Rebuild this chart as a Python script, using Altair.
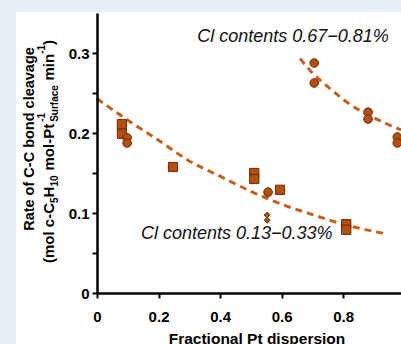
import altair as alt
import pandas as pd

# ---------------- data ----------------
low_sq_x = [0.081, 0.081, 0.247, 0.511, 0.511, 0.595, 0.810, 0.810]
low_sq_y = [0.211, 0.199, 0.1575, 0.150, 0.1425, 0.129, 0.086, 0.079]
low_ci_x = [0.098, 0.098, 0.556]
low_ci_y = [0.194, 0.1875, 0.126]
low_di_x = [0.553, 0.553]
low_di_y = [0.0975, 0.091]
high_ci_x = [0.706, 0.706, 0.881, 0.881, 0.976, 0.976]
high_ci_y = [0.2875, 0.2625, 0.226, 0.2175, 0.195, 0.1875]

low_fit_x = [0.0, 0.1, 0.2, 0.3, 0.4, 0.5, 0.6, 0.7, 0.8, 0.9, 0.94]
low_fit_y = [0.243, 0.216, 0.191, 0.165, 0.146, 0.127, 0.111, 0.098, 0.086, 0.077, 0.074]
high_fit_x = [0.66, 0.70, 0.75, 0.80, 0.85, 0.90, 0.95, 0.988]
high_fit_y = [0.293, 0.275, 0.258, 0.242, 0.229, 0.219, 0.210, 0.204]

label_text = ["Cl contents 0.67\u22120.81%", "Cl contents 0.13\u22120.33%"]
label_x = [0.637, 0.454]
label_y = [0.314, 0.0675]

x_ticks = [0, 0.2, 0.4, 0.6, 0.8]
y_ticks = [0, 0.05, 0.1, 0.15, 0.2, 0.25, 0.3]

# ---------------- layout ----------------
W, H = 304, 280
OX, OY = 97, 13  # plot origin in page pixels
FONT = "Liberation Sans"
MARK = "#b4500e"
EDGE = "#6a2a06"
LINE = "#c4601c"
BG = "#e8eef7"

xs = alt.Scale(domain=[0, 0.988], nice=False, zero=False)
ys = alt.Scale(domain=[0, 0.35], nice=False)

xaxis = alt.Axis(values=x_ticks, labelExpr="datum.value == 0 ? '0' : format(datum.value, '.1f')",
                 title="Fractional Pt dispersion", titleFont=FONT, titleFontSize=15.5,
                 titleFontWeight="bold", titleColor="black", titleX=159.5, titleY=50,
                 titleBaseline="alphabetic", titleAlign="center",
                 labelFont=FONT, labelFontSize=15, labelFontWeight="bold", labelColor="black",
                 labelPadding=11, tickSize=5, tickWidth=2, tickColor="black",
                 domainColor="black", domainWidth=2.5, grid=False, zindex=1, labelFlush=False)
yaxis = alt.Axis(values=y_ticks,
                 labelExpr="datum.value == 0 ? '0' : (round(datum.value*100) % 10 == 0 ? format(datum.value, '.1f') : '')",
                 title=None, labelFont=FONT, labelFontSize=15, labelFontWeight="bold",
                 labelColor="black", labelPadding=3, tickSize=5, tickWidth=2, tickColor="black",
                 domainColor="black", domainWidth=2.5, grid=False, zindex=1, labelFlush=False)

one = pd.DataFrame({"a": [0]})

panel = alt.Chart(one).mark_rect(color="white").encode(
    x=alt.value(16 - OX), x2=alt.value(W + 20), y=alt.value(12 - OY), y2=alt.value(H + 80))

low_fit = pd.DataFrame({"x": low_fit_x, "y": low_fit_y})
high_fit = pd.DataFrame({"x": high_fit_x, "y": high_fit_y})

def fit_line(df):
    return alt.Chart(df).mark_line(color=LINE, strokeWidth=3, strokeDash=[7, 5],
                                   interpolate="monotone", clip=False).encode(
        x=alt.X("x:Q", scale=xs, axis=xaxis), y=alt.Y("y:Q", scale=ys, axis=yaxis))

def pts(xv, yv, shape, size):
    df = pd.DataFrame({"x": xv, "y": yv})
    return alt.Chart(df).mark_point(shape=shape, size=size, filled=True, fill=MARK,
                                    stroke=EDGE, strokeWidth=1, opacity=1).encode(
        x=alt.X("x:Q", scale=xs), y=alt.Y("y:Q", scale=ys))

labels = alt.Chart(pd.DataFrame({"x": label_x, "y": label_y, "t": label_text})).mark_text(
    font=FONT, fontSize=18, fontStyle="italic", color="#111111", align="center",
    baseline="alphabetic").encode(x=alt.X("x:Q", scale=xs), y=alt.Y("y:Q", scale=ys), text="t:N")

# y-axis title (two lines, with sub/superscripts), page-pixel placement
def ttl(text, px, py, size, align):
    return alt.Chart(one).mark_text(text=text, font=FONT, fontSize=size, fontWeight="bold",
                                    color="black", angle=270, align=align, baseline="alphabetic").encode(
        x=alt.value(px - OX), y=alt.value(py - OY))

B1, B2 = 34, 54
SUP, SUB = B2 - 9, B2 + 4
title_parts = [
    ttl("Rate of C-C bond cleavage", B1, 139, 14.5, "center"),
    ttl("(mol c-C", B2, 263, 15, "left"),
    ttl("5", SUB, 203, 10, "left"),
    ttl("H", B2, 197.4, 15, "left"),
    ttl("10", SUB, 186.6, 10, "left"),
    ttl("mol-Pt", B2, 170.5, 15, "left"),
    ttl("-1", SUP, 121.8, 10, "left"),
    ttl("Surface", SUB, 121.8, 10, "left"),
    ttl("min", B2, 80.5, 15, "left"),
    ttl("-1", SUP, 53.8, 10, "left"),
    ttl(")", B2, 44.9, 15, "left"),
]

chart = alt.layer(
    panel,
    fit_line(low_fit),
    fit_line(high_fit),
    pts(low_sq_x, low_sq_y, "square", 85),
    pts(low_ci_x, low_ci_y, "circle", 75),
    pts(low_di_x, low_di_y, "diamond", 35),
    pts(high_ci_x, high_ci_y, "circle", 75),
    labels,
    *title_parts,
).properties(
    width=W, height=H, autosize=alt.AutoSizeParams(type="none"),
    padding={"left": OX, "top": OY, "right": 0, "bottom": 344 - OY - H},
    background=BG,
).configure_view(stroke=None)

chart.save("out.html", embed_options={"renderer": "svg", "actions": False})
